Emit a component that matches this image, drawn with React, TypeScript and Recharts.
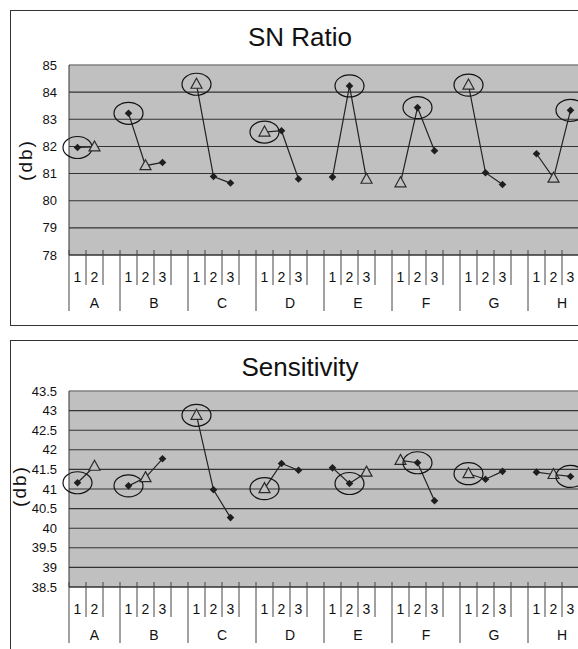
import { CartesianGrid, Line, LineChart, ReferenceLine, XAxis, YAxis } from "recharts";

const factors = ["A", "B", "C", "D", "E", "F", "G", "H"];
const levelCounts = [2, 3, 3, 3, 3, 3, 3, 3];

// values per level, factor by factor
const snRatio = [
  81.96, 81.98,
  83.22, 81.29, 81.41,
  84.29, 80.89, 80.65,
  82.53, 82.58, 80.8,
  80.87, 84.23, 80.79,
  80.66, 83.43, 81.84,
  84.26, 81.03, 80.6,
  81.73, 80.83, 83.33,
];
const sensitivity = [
  41.16, 41.58,
  41.08, 41.29, 41.77,
  42.88, 40.98, 40.27,
  41.01, 41.65, 41.48,
  41.54, 41.14, 41.43,
  41.73, 41.67, 40.7,
  41.39, 41.25, 41.45,
  41.43, 41.37, 41.32,
];

// triangle = current level, circle = chosen level
const currentLevel = [2, 2, 1, 1, 3, 1, 1, 2];
const snBest = [1, 1, 1, 1, 2, 2, 1, 3];
const sensBest = [1, 1, 1, 1, 2, 2, 1, 3];

const snTicks = [78, 79, 80, 81, 82, 83, 84, 85];
const sensTicks = [38.5, 39, 39.5, 40, 40.5, 41, 41.5, 42, 42.5, 43, 43.5];

const SLOT = 17;
const BG = "#c0c0c0";
const INK = "#2a2a2a";
const FONT = "'Liberation Sans', Arial, sans-serif";

type Row = {
  key: string;
  factor: string;
  level: string;
  first: boolean;
  size: number;
  value: number | null;
  current: boolean;
  best: boolean;
};

const buildRows = (values: number[], best: number[]) => {
  const rows: Row[] = [];
  let k = 0;
  factors.forEach((f, fi) => {
    const n = levelCounts[fi];
    for (let l = 1; l <= n; l++) {
      rows.push({
        key: f + l,
        factor: f,
        level: String(l),
        first: l === 1,
        size: n + 1,
        value: values[k++],
        current: currentLevel[fi] === l,
        best: best[fi] === l,
      });
    }
    rows.push({ key: f + "-", factor: f, level: "", first: false, size: n + 1, value: null, current: false, best: false });
  });
  return rows;
};

const MarkDot = (props: any) => {
  const { cx, cy, payload, index } = props;
  if (cx == null || cy == null || payload == null || payload.value == null) return <g key={index} />;
  return (
    <g key={index}>
      {payload.current ? (
        <polygon
          points={`${cx},${cy - 6} ${cx + 5.5},${cy + 4} ${cx - 5.5},${cy + 4}`}
          fill={BG}
          stroke={INK}
          strokeWidth={1.2}
        />
      ) : (
        <polygon points={`${cx},${cy - 3.8} ${cx + 3.8},${cy} ${cx},${cy + 3.8} ${cx - 3.8},${cy}`} fill="#1e1e1e" />
      )}
      {payload.best && <ellipse cx={cx} cy={cy} rx={14.5} ry={11} fill="none" stroke="#111" strokeWidth={1.2} />}
    </g>
  );
};

const SlotTick = (props: any) => {
  const { x, y, payload, rows } = props;
  const row: Row = rows.find((r: Row) => r.key === payload.value);
  if (!row) return <g />;
  const left = x - SLOT / 2;
  return (
    <g>
      <line x1={left} x2={left} y1={y - 5} y2={y + (row.first ? 56 : 30)} stroke="#444" strokeWidth={1} />
      {row.level && (
        <text x={x} y={y + 22} textAnchor="middle" dominantBaseline="central" fontSize={14} fill="#111" fontFamily={FONT}>
          {row.level}
        </text>
      )}
      {row.first && (
        <text
          x={left + (row.size * SLOT) / 2}
          y={y + 48}
          textAnchor="middle"
          dominantBaseline="central"
          fontSize={14}
          fill="#111"
          fontFamily={FONT}
        >
          {row.factor}
        </text>
      )}
    </g>
  );
};

const FactorChart = ({
  title,
  rows,
  ticks,
  boxTop,
  plotTop,
  plotHeight,
  labelX,
  labelY,
}: {
  title: string;
  rows: Row[];
  ticks: number[];
  boxTop: number;
  plotTop: number;
  plotHeight: number;
  labelX: number;
  labelY: number;
}) => {
  const H = 314;
  const W = 58 + SLOT * rows.length;
  const lo = ticks[0];
  const hi = ticks[ticks.length - 1];
  return (
    <div
      style={{
        position: "absolute",
        left: 10,
        top: boxTop,
        width: W + 20,
        height: H,
        border: "1px solid #333",
        background: "#fff",
      }}
    >
      <div
        style={{
          position: "absolute",
          left: 289,
          top: 26,
          transform: "translate(-50%, -50%)",
          fontFamily: FONT,
          fontSize: 26,
          color: "#111",
          whiteSpace: "nowrap",
        }}
      >
        {title}
      </div>
      <div
        style={{
          position: "absolute",
          left: labelX,
          top: labelY,
          transform: "translate(-50%, -50%) rotate(-90deg)",
          fontFamily: FONT,
          fontSize: 19,
          letterSpacing: 2,
          color: "#111",
          whiteSpace: "nowrap",
        }}
      >
        (db)
      </div>
      <LineChart
        width={W}
        height={H}
        data={rows}
        margin={{ top: plotTop, right: 0, left: 0, bottom: 0 }}
        style={{ position: "absolute", left: 0, top: 0 }}
      >
        <CartesianGrid vertical={false} stroke="#333" strokeWidth={1.1} fill={BG} fillOpacity={1} />
        <ReferenceLine y={hi} stroke="#a8a8a8" />
        <XAxis
          dataKey="key"
          type="category"
          interval={0}
          padding={{ left: SLOT / 2, right: SLOT / 2 }}
          height={H - plotTop - plotHeight}
          tickLine={false}
          tickSize={0}
          tickMargin={0}
          axisLine={{ stroke: "#333" }}
          tick={(p: any) => <SlotTick {...p} rows={rows} />}
        />
        <YAxis
          width={58}
          domain={[lo, hi]}
          ticks={ticks}
          interval={0}
          tickLine={false}
          tickMargin={6}
          axisLine={{ stroke: "#333" }}
          tick={{ fontSize: 13, fill: "#111", fontFamily: FONT }}
        />
        <Line
          dataKey="value"
          stroke="#222"
          strokeWidth={1.2}
          connectNulls={false}
          isAnimationActive={false}
          activeDot={false}
          dot={(p: any) => <MarkDot key={p.index} {...p} />}
        />
      </LineChart>
    </div>
  );
};

export default function App() {
  const snRows = buildRows(snRatio, snBest);
  const sensRows = buildRows(sensitivity, sensBest);
  return (
    <div style={{ position: "fixed", left: 0, top: 0, width: 578, height: 649, overflow: "hidden", background: "#fff" }}>
      <FactorChart title="SN Ratio" rows={snRows} ticks={snTicks} boxTop={10} plotTop={54} plotHeight={190} labelX={15} labelY={149} />
      <FactorChart
        title="Sensitivity"
        rows={sensRows}
        ticks={sensTicks}
        boxTop={340}
        plotTop={50}
        plotHeight={196}
        labelX={9}
        labelY={145}
      />
    </div>
  );
}
